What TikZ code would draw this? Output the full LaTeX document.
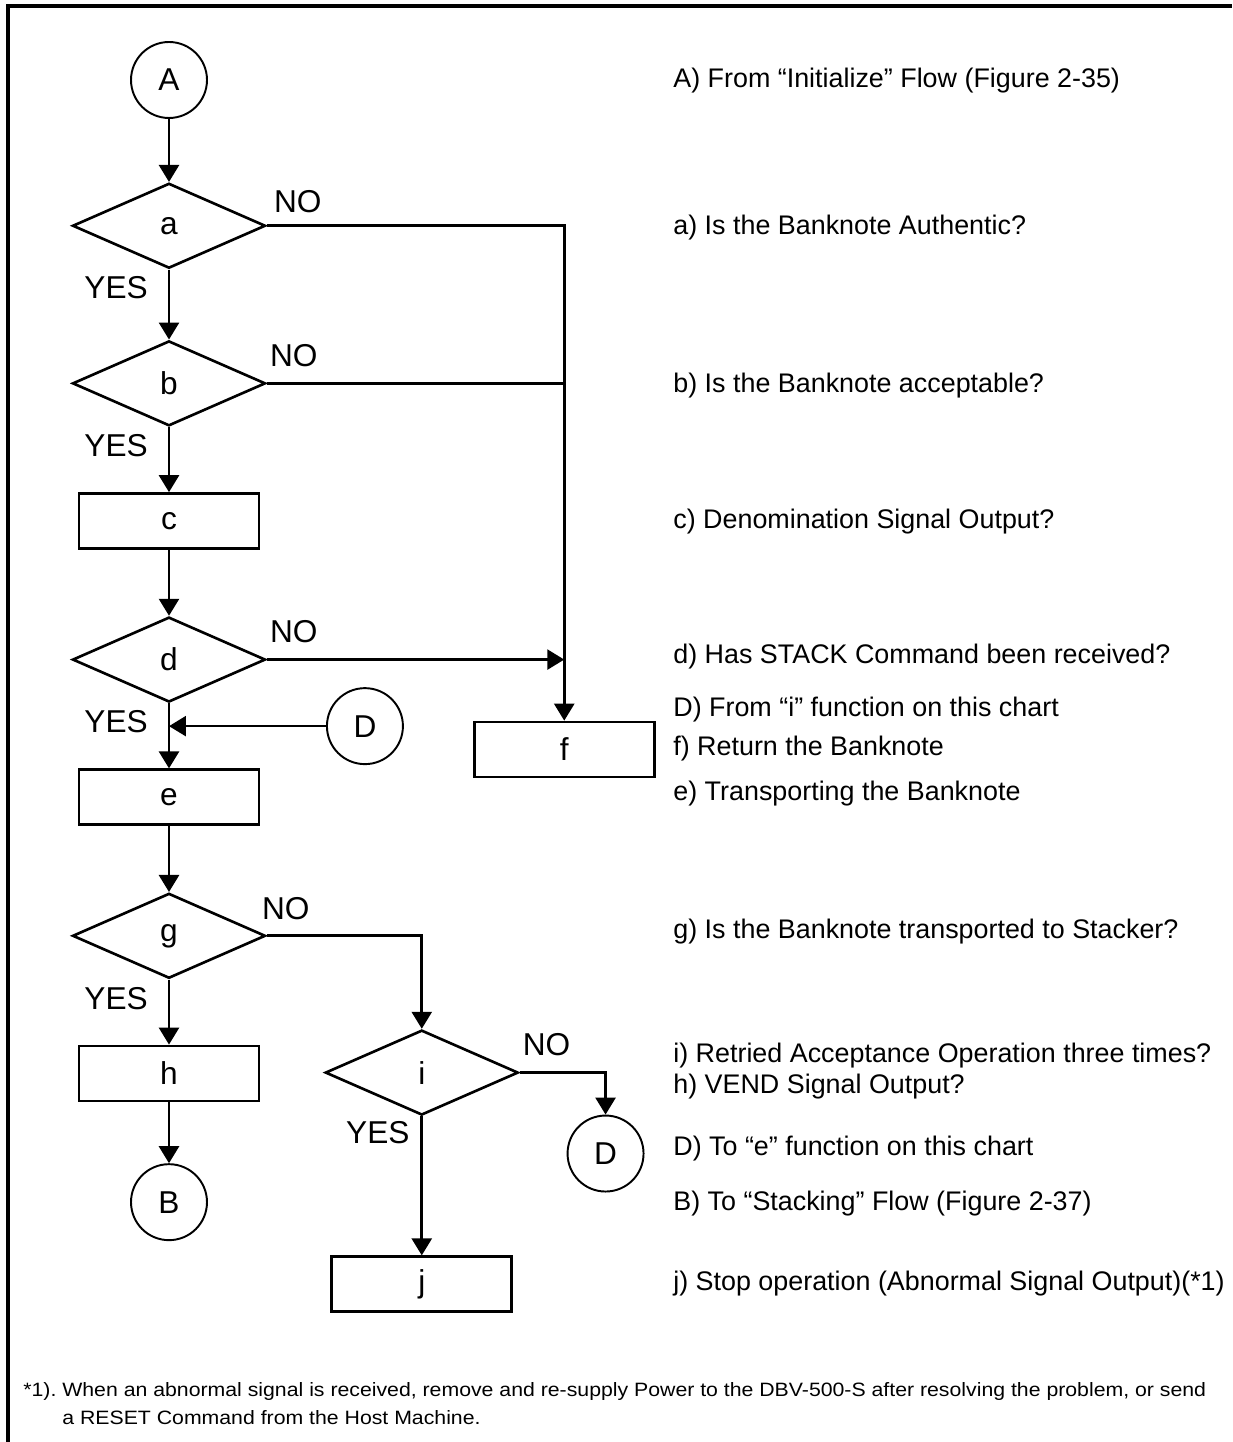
\documentclass[tikz,border=0pt]{standalone}
\usepackage{fontspec}
\setmainfont{Liberation Sans}
\newfontfamily\notefont[FakeStretch=1.1]{Liberation Sans}
\usetikzlibrary{shapes.geometric, arrows.meta, positioning, calc}
\frenchspacing

\begin{document}
\begin{tikzpicture}[
    x=0.02cm, y=-0.02cm,
    % --- node styles ---
    conn/.style={circle, draw=black, line width=1.1pt, minimum size=1.52cm,
        inner sep=0pt, font=\fontsize{18}{21}\selectfont},
    dec/.style={diamond, draw=black, line width=1.5pt, minimum width=3.86cm,
        minimum height=1.7cm, inner sep=0pt, font=\fontsize{18}{21}\selectfont},
    stepbox/.style={rectangle, draw=black, line width=1.5pt, minimum width=3.6cm,
        minimum height=1.1cm, inner sep=0pt, font=\fontsize{18}{21}\selectfont},
    desc/.style={anchor=base west, inner sep=0pt,
        font=\fontsize{15.3}{18}\selectfont},
    % --- arrow / label styles ---
    arr/.style={-{Triangle[length=0.34cm, width=0.4cm]}, line width=1.5pt},
    ln/.style={line width=1.5pt},
    yeslbl/.style={anchor=north east, inner sep=0pt, xshift=-0.4cm, yshift=-0.12cm,
        font=\fontsize{18}{21}\selectfont},
    nolbl/.style={anchor=south west, inner sep=0pt, xshift=0.04cm, yshift=0.3cm,
        font=\fontsize{18}{21}\selectfont},
    node distance=1.3cm
]
\useasboundingbox (0,0) rectangle (1232,1442);

%%% ================= FRAME =================
\draw [line width=2.3pt] (8,1442) -- (8,6) -- (1232,6);

%%% ================= MAIN COLUMN =================
\node (A) [conn] at (169,80) {A};
\node (a) [dec, below=1.26cm of A] {a};
\node (b) [dec, below=1.4cm of a] {b};
\node (c) [stepbox, below=1.3cm of b] {c};
\node (d) [dec, below=1.32cm of c] {d};
\node (e) [stepbox, below=1.3cm of d] {e};
\node (g) [dec, below=1.32cm of e] {g};
\node (h) [stepbox, below=1.3cm of g] {h};
\node (B) [conn, below=1.22cm of h] {B};

%%% ================= RETURN BRANCH =================
\coordinate (aturn) at ($(a.east)+(5.95cm,0)$);
\node (f) [stepbox, below=9.9cm of aturn] {f};
\coordinate (dmid) at ($(d.south)!0.35!(e.north)$);
\node (din) [conn, right=3.14cm of dmid] {D};

%%% ================= RETRY BRANCH =================
\coordinate (gturn) at ($(g.east)+(3.1cm,0)$);
\node (i) [dec, below=1.86cm of gturn] {i};
\coordinate (iturn) at ($(i.east)+(1.72cm,0)$);
\node (dout) [conn, below=0.84cm of iturn] {D};
\node (j) [stepbox, below=2.78cm of i] {j};

%%% ================= ARROWS =================
\draw [arr] (A) -- (a);
\draw [arr] (a) -- node[yeslbl, pos=0] {YES} (b);
\draw [arr] (b) -- node[yeslbl, pos=0] {YES} (c);
\draw [arr] (c) -- (d);
\draw [arr] (d) -- node[yeslbl, pos=0] {YES} (e);
\draw [arr] (din) -- (din.west -| e.north);
\draw [arr] (e) -- (g);
\draw [arr] (g) -- node[yeslbl, pos=0] {YES} (h);
\draw [arr] (h) -- (B);

%% NO exits
\draw [arr] (a.east) -- node[nolbl, pos=0, xshift=0.08cm, yshift=-0.06cm] {NO}
    (aturn) -- (f.north);
\draw [ln] (b.east) -- node[nolbl, pos=0] {NO} (b.east -| aturn);
\draw [arr] (d.east) -- node[nolbl, pos=0] {NO} (d.east -| aturn);
\draw [arr] (g.east) -- node[nolbl, pos=0, xshift=-0.16cm] {NO}
    (gturn) -- (i.north);
\draw [arr] (i.east) -- node[nolbl, pos=0] {NO} (iturn) -- (dout.north);
\draw [arr] (i) -- node[yeslbl, pos=0, xshift=0.18cm, yshift=0.04cm] {YES} (j);

%%% ================= LEGEND =================
\node (tA) [desc] at (673,88) {A) From “Initialize” Flow (Figure 2-35)};
\node (ta) [desc] at (673,235) {a) Is the Banknote Authentic?};
\node (tb) [desc] at (673,393) {b) Is the Banknote acceptable?};
\node (tc) [desc] at (673,528) {c) Denomination Signal Output?};
\node (td) [desc] at (673,663) {d) Has STACK Command been received?};
\node (tDin) [desc] at (673,716) {D) From “i” function on this chart};
\node (tf) [desc] at (673,755) {f) Return the Banknote};
\node (te) [desc] at (673,800) {e) Transporting the Banknote};
\node (tg) [desc] at (673,938) {g) Is the Banknote transported to Stacker?};
\node (ti) [desc] at (673,1062) {i) Retried Acceptance Operation three times?};
\node (th) [desc] at (673,1093) {h) VEND Signal Output?};
\node (tDout) [desc] at (673,1155) {D) To “e” function on this chart};
\node (tB) [desc] at (673,1210) {B) To “Stacking” Flow (Figure 2-37)};
\node (tj) [desc] at (673,1290) {j) Stop operation (Abnormal Signal Output)(*1)};

%%% ================= FOOTNOTE =================
\node (note) [anchor=north west, align=left, inner sep=0pt,
    font=\notefont\fontsize{11}{15.9}\selectfont] at (23,1382)
    {*1). When an abnormal signal is received, remove and re-supply Power to the DBV-500-S after resolving the problem, or send\\
    \hspace*{0.78cm}a RESET Command from the Host Machine.};

\end{tikzpicture}
\end{document}
